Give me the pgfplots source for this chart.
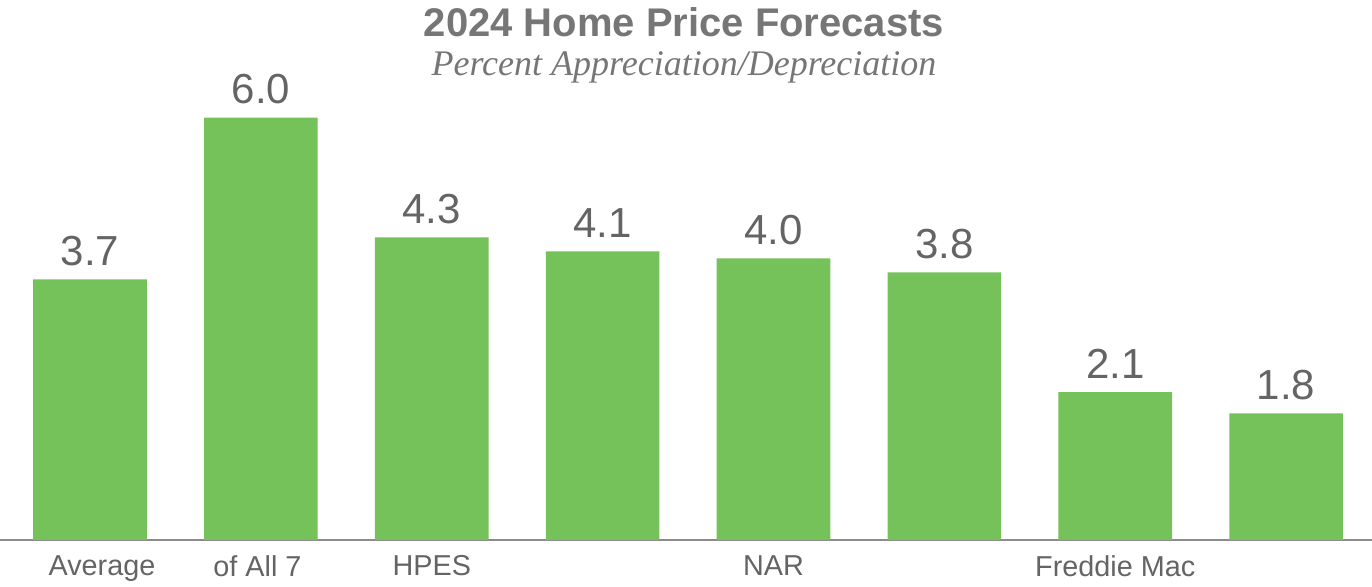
\documentclass[border=0pt]{standalone}
\usepackage{pgfplots}
\pgfplotsset{compat=1.18}
\usepackage{fontspec}
\setmainfont{Liberation Sans}
\newfontfamily\serifit{Liberation Serif}
\definecolor{bargreen}{RGB}{116,194,89}
\definecolor{titlegray}{RGB}{118,118,118}
\definecolor{labgray}{RGB}{100,100,100}
\definecolor{axgray}{RGB}{140,140,140}
\begin{document}
\begin{tikzpicture}
\begin{axis}[
  name=ax,
  scale only axis,
  width=686pt, height=270pt,
  xmin=-0.527, xmax=7.503,
  ymin=0, ymax=7.67,
  enlargelimits=false,
  axis x line=bottom,
  axis y line=none,
  x axis line style={-, draw=axgray, line width=1.2pt},
  ybar, bar width=0.665,
  xtick={0.07,0.98,2,4,6},
  xticklabels={Average, of All 7, HPES, NAR, Freddie Mac},
  major tick length=0pt,
  xticklabel style={font=\fontsize{14.4pt}{16pt}\selectfont, text=labgray, inner sep=0pt, yshift=-7.5pt, anchor=north},
  ytick=\empty,
  nodes near coords,
  nodes near coords style={font=\fontsize{21pt}{24pt}\selectfont, text=labgray, inner sep=0pt, anchor=south, yshift=6.5pt, /pgf/number format/.cd, fixed, fixed zerofill, precision=1, assume math mode=true},
  clip=false,
]
\addplot[fill=bargreen, draw=none] coordinates {
 (0,3.7) (1,6.0) (2,4.3) (3,4.1) (4,4.0) (5,3.8) (6,2.1) (7,1.8)
};
\node[anchor=base, text=titlegray, font=\bfseries\fontsize{20pt}{22pt}\selectfont] at (rel axis cs:0.4985,0.9333) {2024 Home Price Forecasts};
\node[anchor=base, text=titlegray, font=\serifit\itshape\fontsize{18pt}{20pt}\selectfont] at (rel axis cs:0.4985,0.861) {Percent Appreciation/Depreciation};
\end{axis}
\pgfresetboundingbox
\path[use as bounding box] ([yshift=-23.5pt]ax.south west) rectangle (ax.north east);
\end{tikzpicture}
\end{document}
